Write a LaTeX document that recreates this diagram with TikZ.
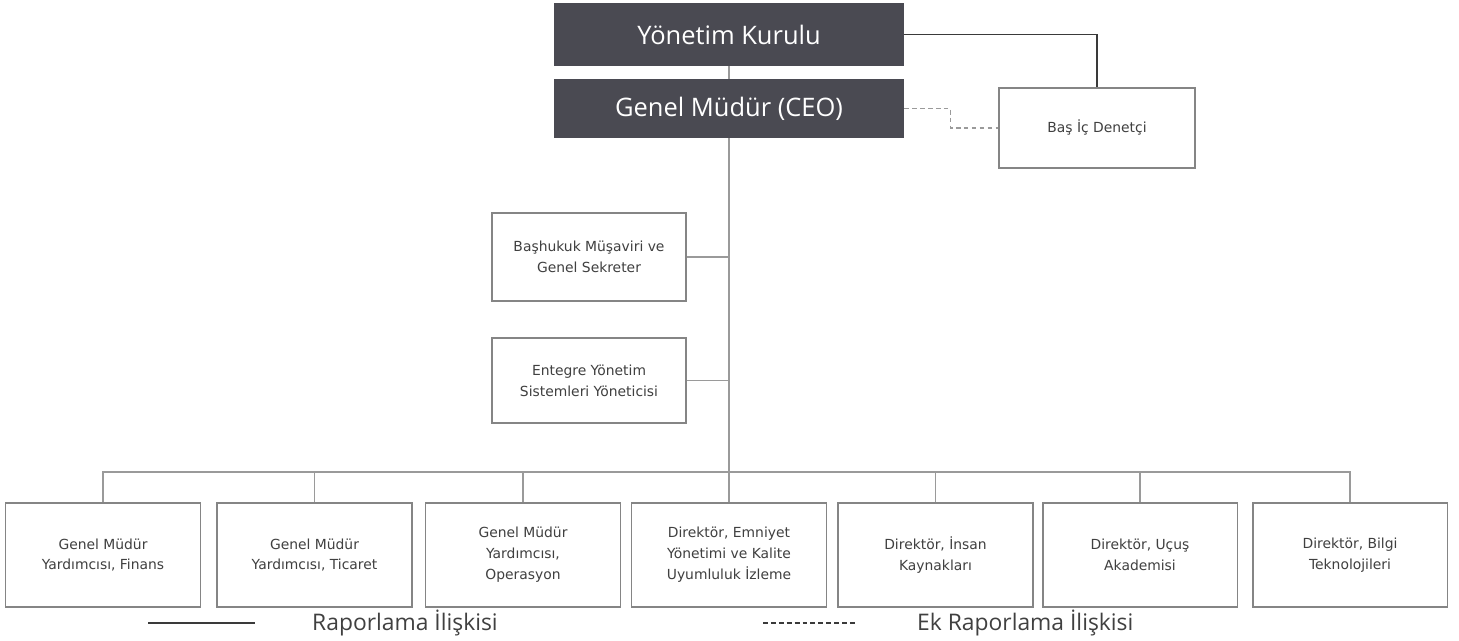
\documentclass[tikz,border=0pt]{standalone}
\usepackage{fontspec}
\setmainfont{DejaVu Sans}
\newfontfamily\headfont{Open Sans}
\usepackage{xcolor}
\usepackage{tikz}

\definecolor{headfill}{HTML}{4A4A52}
\definecolor{boxline}{HTML}{858585}
\definecolor{wire}{HTML}{9A9A9A}
\definecolor{wiredark}{HTML}{3A3A3A}
\definecolor{txt}{HTML}{404040}

\tikzset{
  headbox/.style={fill=headfill, draw=none, text=white, minimum width=7cm,
    font=\headfont\fontsize{14.5}{17}\selectfont, inner sep=0pt},
  unitbox/.style={draw=boxline, line width=1.1pt, fill=white, text=txt, align=center,
    font=\fontsize{7.9}{11.9}\selectfont, inner sep=0pt},
  lowbox/.style={unitbox, minimum width=3.9cm, minimum height=2.08cm},
  link/.style={draw=wire, line width=0.6pt},
  boardlink/.style={draw=wiredark, line width=0.75pt},
  extralink/.style={draw=wire, line width=0.6pt, dash pattern=on 2.6pt off 1.9pt},
  legendtext/.style={text=txt, font=\headfont\fontsize{13}{15}\selectfont, anchor=west}
}

\begin{document}
\begin{tikzpicture}[x=0.02cm, y=-0.02cm]
	\useasboundingbox (0, 0) rectangle (1459, 641);

	% top of the chart
	\node[headbox, minimum height=1.26cm] (board) at (729, 34.5) {Yönetim Kurulu};
	\node[headbox, minimum height=1.18cm] (ceo) at (729, 108.5) {Genel Müdür (CEO)};
	\node[unitbox, minimum width=3.92cm, minimum height=1.6cm] (audit) at (1097, 128) {Baş İç Denetçi};

	% staff units
	\node[unitbox, minimum width=3.88cm, minimum height=1.76cm] (legal) at (589, 257) {Başhukuk Müşaviri ve\\Genel Sekreter};
	\node[unitbox, minimum width=3.88cm, minimum height=1.7cm] (ims) at (589, 380.5) {Entegre Yönetim\\Sistemleri Yöneticisi};

	% line units
	\node[lowbox] (fin) at (103, 555) {Genel Müdür\\Yardımcısı, Finans};
	\node[lowbox] (com) at (314.5, 555) {Genel Müdür\\Yardımcısı, Ticaret};
	\node[lowbox] (ops) at (523, 555) {Genel Müdür\\Yardımcısı,\\Operasyon};
	\node[lowbox] (safety) at (729, 555) {Direktör, Emniyet\\Yönetimi ve Kalite\\Uyumluluk İzleme};
	\node[lowbox] (hr) at (935.5, 555) {Direktör, İnsan\\Kaynakları};
	\node[lowbox] (academy) at (1140, 555) {Direktör, Uçuş\\Akademisi};
	\node[lowbox] (it) at (1350, 555) {Direktör, Bilgi\\Teknolojileri};

	% connectors
	\draw[link] (board) -- (ceo);
	\draw[boardlink] (board.east) -| (audit.north);
	\draw[extralink] (ceo.east) -- ++(46, 0) |- (audit.west);

	\coordinate (bus) at (729, 472);
	\draw[link] (ceo.south) -- (bus);
	\draw[link] (legal.east) -- (legal.east -| bus);
	\draw[link] (ims.east) -- (ims.east -| bus);
	\draw[link] (fin.north) |- (bus) -| (it.north);
	\foreach \unit in {com, ops, safety, hr, academy}
		\draw[link] (\unit.north) -- (\unit.north |- bus);

	% legend
	\coordinate (solidA) at (148, 623);
	\coordinate (solidB) at (255, 623);
	\draw[boardlink] (solidA) -- (solidB);
	\node[legendtext] (solidtext) at (306, 623) {Raporlama İlişkisi};

	\coordinate (dashA) at (763, 623);
	\coordinate (dashB) at (857, 623);
	\draw[wiredark, line width=0.6pt, dash pattern=on 2.8pt off 1.7pt] (dashA) -- (dashB);
	\node[legendtext] (dashtext) at (911, 623) {Ek Raporlama İlişkisi};
\end{tikzpicture}
\end{document}
